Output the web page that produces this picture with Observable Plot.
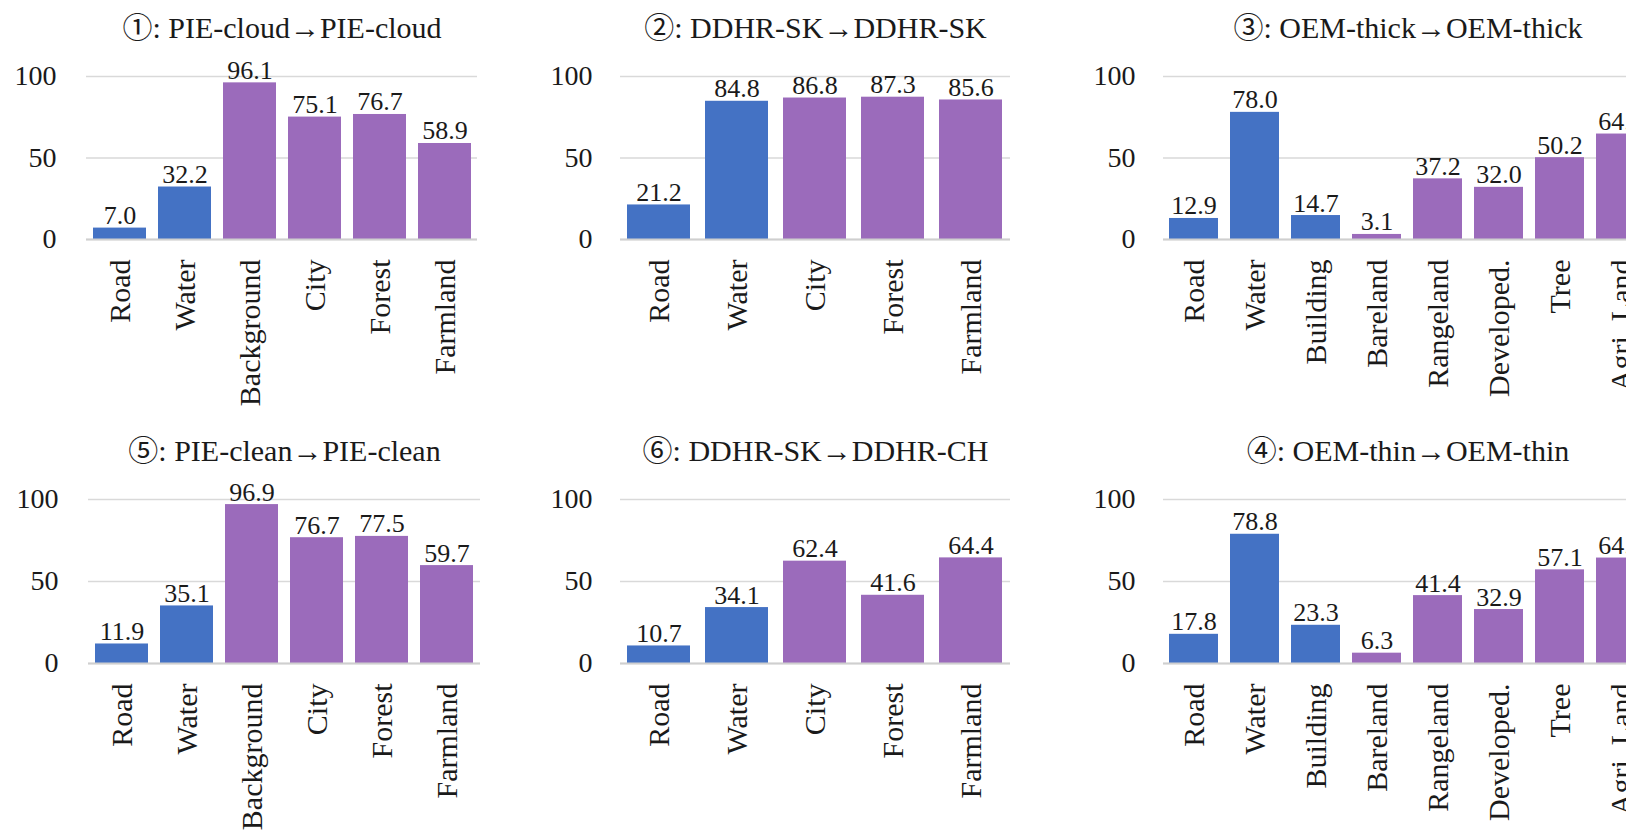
<!DOCTYPE html>
<html><head><meta charset="utf-8">
<script src="https://cdn.jsdelivr.net/npm/d3@7"></script>
<script src="https://cdn.jsdelivr.net/npm/@observablehq/plot@0.6"></script>
<style>
html,body{margin:0;padding:0;background:#fff;overflow:hidden;width:1626px;height:835px;}
#chart{position:relative;width:1626px;height:835px;overflow:hidden;}
.panel{position:absolute;}
</style></head><body><div id="chart"></div>
<script>
// ---- data ----
const pieClasses = ["Road", "Water", "Background", "City", "Forest", "Farmland"];
const pieCloudValues = [7.0, 32.2, 96.1, 75.1, 76.7, 58.9];
const pieCleanValues = [11.9, 35.1, 96.9, 76.7, 77.5, 59.7];
const ddhrClasses = ["Road", "Water", "City", "Forest", "Farmland"];
const ddhrSkValues = [21.2, 84.8, 86.8, 87.3, 85.6];
const ddhrChValues = [10.7, 34.1, 62.4, 41.6, 64.4];
const oemClasses = ["Road", "Water", "Building", "Bareland", "Rangeland", "Developed.", "Tree", "Agri. Land"];
const oemThickValues = [12.9, 78.0, 14.7, 3.1, 37.2, 32.0, 50.2, 64.7];
const oemThinValues = [17.8, 78.8, 23.3, 6.3, 41.4, 32.9, 57.1, 64.3];
const blueClasses = ["Road", "Water", "Building"];
const yTicks = [0, 50, 100];
const titles = ["①: PIE-cloud→PIE-cloud", "②: DDHR-SK→DDHR-SK", "③: OEM-thick→OEM-thick",
                "⑤: PIE-clean→PIE-clean", "⑥: DDHR-SK→DDHR-CH", "④: OEM-thin→OEM-thin"];

const BLUE = "#4472c4", PURPLE = "#9b6bbb";
const FONT = "'Liberation Serif', 'Times New Roman', 'Noto Sans CJK SC', serif";

function panel({title, classes, values, left, top, marginLeft, plotWidth, marginTop, plotHeight, tickPad}) {
  const data = classes.map((c, i) => ({c, v: values[i], g: blueClasses.includes(c) ? "group A" : "group B"}));
  const marginRight = 10, marginBottom = 190;
  const svg = Plot.plot({
    width: marginLeft + plotWidth + marginRight,
    height: marginTop + plotHeight + marginBottom,
    marginLeft, marginRight, marginTop, marginBottom,
    x: {domain: classes, paddingInner: 0.19, paddingOuter: 0.09, label: null},
    y: {domain: [0, 100], label: null},
    color: {type: "ordinal", domain: ["group A", "group B"], range: [BLUE, PURPLE]},
    style: {fontFamily: FONT, fontSize: "28px", background: "transparent", overflow: "visible", color: "#1a1a1a"},
    marks: [
      Plot.gridY(yTicks, {stroke: "#d9d9d9", strokeOpacity: 1, strokeWidth: 1.5}),
      Plot.barY(data, {x: "c", y: "v", fill: "g"}),
      Plot.ruleY([0], {stroke: "#cfcfcf", strokeWidth: 2}),
      Plot.text(data, {x: "c", y: "v", text: d => d.v.toFixed(1), lineAnchor: "bottom", dy: -4, fontSize: 26}),
      Plot.axisY(yTicks, {tickSize: 0, tickPadding: tickPad, fontSize: 28, label: null}),
      Plot.axisX({tickSize: 0, tickRotate: -90, tickPadding: 20, fontSize: 30, label: null}),
      Plot.text([title], {text: d => d, frameAnchor: "top", dy: -39, lineAnchor: "bottom", fontSize: 30})
    ]
  });
  svg.classList.add("panel");
  svg.style.left = left + "px";
  svg.style.top = top + "px";
  svg.style.position = "absolute";
  svg.style.maxWidth = "none";
  document.getElementById("chart").appendChild(svg);
}

const row1 = {top: 0, marginTop: 76, plotHeight: 163};
const row2 = {top: 423, marginTop: 76, plotHeight: 164};

panel({title: titles[0], classes: pieClasses, values: pieCloudValues, left: 0, marginLeft: 86, plotWidth: 391, tickPad: 30, ...row1});
panel({title: titles[1], classes: ddhrClasses, values: ddhrSkValues, left: 500, marginLeft: 120, plotWidth: 390, tickPad: 28, ...row1});
panel({title: titles[2], classes: oemClasses, values: oemThickValues, left: 1060, marginLeft: 103, plotWidth: 489, tickPad: 28, ...row1});
panel({title: titles[3], classes: pieClasses, values: pieCleanValues, left: 0, marginLeft: 88, plotWidth: 392, tickPad: 30, ...row2});
panel({title: titles[4], classes: ddhrClasses, values: ddhrChValues, left: 500, marginLeft: 120, plotWidth: 390, tickPad: 28, ...row2});
panel({title: titles[5], classes: oemClasses, values: oemThinValues, left: 1060, marginLeft: 103, plotWidth: 489, tickPad: 28, ...row2});
</script></body></html>
